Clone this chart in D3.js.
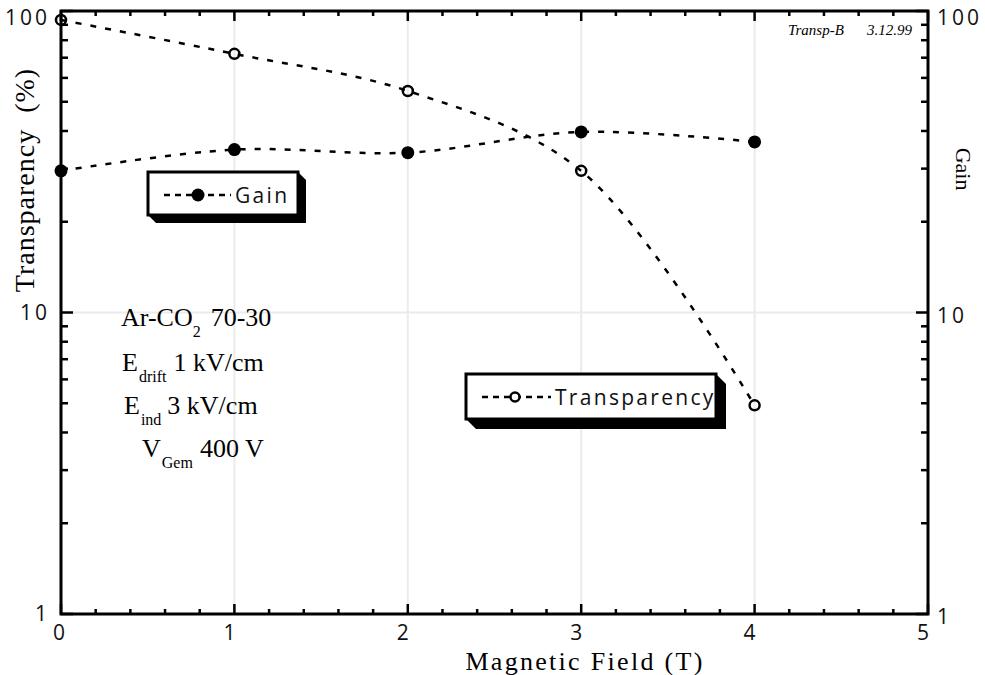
<!DOCTYPE html>
<html>
<head>
<meta charset="utf-8">
<script src="https://cdn.jsdelivr.net/npm/d3@7"></script>
<style>
  html, body { margin: 0; padding: 0; background: #fff; }
  svg { display: block; }
</style>
</head>
<body>
<svg id="chart" width="985" height="675"></svg>
<script>
// ---- data ----
const fieldT = [0, 1, 2, 3, 4];
const transparency = [93.4, 72.1, 54.3, 29.5, 4.92];
const gain = [29.5, 34.7, 33.9, 39.7, 36.8];
const xTickLabels = ["0", "1", "2", "3", "4", "5"];
const yTickLabels = ["1", "10", "100"];
const legendLabels = ["Gain", "Transparency"];

const svg = d3.select("#chart");
const L = 61, R = 928, T = 11, B = 614;
const x = d3.scaleLinear().domain([0, 5]).range([L, R]);
const y = d3.scaleLog().domain([1, 100]).range([B, T]);

const sans = "'Open Sans', 'DejaVu Sans', sans-serif";
const serif = "'Liberation Serif', 'DejaVu Serif', serif";

// grid
const grid = svg.append("g").attr("stroke", "#ebebeb").attr("stroke-width", 2);
[1, 2, 3, 4].forEach(v => grid.append("line").attr("x1", x(v)).attr("x2", x(v)).attr("y1", T).attr("y2", B));
grid.append("line").attr("x1", L).attr("x2", R).attr("y1", y(10)).attr("y2", y(10));

// ticks
const xMajor = d3.range(0, 6);
const xMinor = d3.range(0, 25).map(i => i * 0.2).filter(v => Math.abs(v - Math.round(v)) > 1e-6);
const yMajor = [1, 10, 100];
const yMinor = [2,3,4,5,6,7,8,9,20,30,40,50,60,70,80,90];

const ax = svg.append("g").attr("stroke", "#000").attr("stroke-width", 2.5);
function tickX(v, len) {
  ax.append("line").attr("x1", x(v)).attr("x2", x(v)).attr("y1", B).attr("y2", B - len);
  ax.append("line").attr("x1", x(v)).attr("x2", x(v)).attr("y1", T).attr("y2", T + len);
}
function tickY(v, len) {
  ax.append("line").attr("x1", L).attr("x2", L + len).attr("y1", y(v)).attr("y2", y(v));
  ax.append("line").attr("x1", R).attr("x2", R - len).attr("y1", y(v)).attr("y2", y(v));
}
xMajor.forEach(v => tickX(v, 10));
xMinor.forEach(v => tickX(v, 5));
yMajor.forEach(v => tickY(v, 12));
yMinor.forEach(v => tickY(v, 7));

// frame
svg.append("rect").attr("x", L).attr("y", T).attr("width", R - L).attr("height", B - T)
  .attr("fill", "none").attr("stroke", "#000").attr("stroke-width", 3);

// tick labels
const lab = svg.append("g").attr("font-family", sans).attr("font-size", 21).attr("fill", "#111");
xMajor.forEach((v, i) => {
  lab.append("text").attr("x", x(v) - (i === 0 ? 2 : 5)).attr("y", 640).attr("text-anchor", "middle").text(xTickLabels[i]);
});
yMajor.forEach((v, i) => {
  lab.append("text").attr("x", 50).attr("y", Math.max(y(v) + 7, 25)).attr("text-anchor", "end")
    .attr("letter-spacing", 3).text(yTickLabels[i]);
  lab.append("text").attr("x", 937).attr("y", Math.max(y(v) + 10, 25)).attr("text-anchor", "start")
    .attr("letter-spacing", 3).text(yTickLabels[i]);
});

// axis titles
svg.append("text").attr("x", 585).attr("y", 670).attr("text-anchor", "middle")
  .attr("font-family", serif).attr("font-size", 26).attr("letter-spacing", 2.3).text("Magnetic Field (T)");
svg.append("text").attr("transform", "translate(34,180) rotate(-90)").attr("text-anchor", "middle")
  .attr("font-family", serif).attr("font-size", 28).attr("letter-spacing", 1).attr("xml:space", "preserve").text("Transparency  (%)");
svg.append("text").attr("transform", "translate(956,169) rotate(90)").attr("text-anchor", "middle")
  .attr("font-family", serif).attr("font-size", 22).text("Gain");

// annotation
svg.append("text").attr("x", 788).attr("y", 35).attr("font-family", serif).attr("font-style", "italic")
  .attr("font-size", 15).text("Transp-B");
svg.append("text").attr("x", 867).attr("y", 35).attr("font-family", serif).attr("font-style", "italic")
  .attr("font-size", 15).text("3.12.99");

const ann = svg.append("g").attr("font-family", serif).attr("font-size", 26).attr("fill", "#000");
function annLine(xx, yy, main, sub, rest, subGap, restGap) {
  const t = ann.append("text").attr("x", xx).attr("y", yy);
  t.append("tspan").text(main);
  t.append("tspan").attr("font-size", 16).attr("dx", subGap).attr("dy", 11).text(sub);
  t.append("tspan").attr("dx", restGap).attr("dy", -11).text(rest);
}
annLine(121, 326, "Ar-CO", "2", "70-30", 0, 10);
annLine(122, 371, "E", "drift", "1 kV/cm", 1, 7);
annLine(124, 414, "E", "ind", "3 kV/cm", 1, 6);
annLine(142, 457, "V", "Gem", "400 V", 1, 7);

// lines
const line = d3.line().x(d => x(d[0])).y(d => y(d[1])).curve(d3.curveCatmullRom.alpha(0.5));
const dash = "6,9";
svg.append("path").datum(fieldT.map((f, i) => [f, transparency[i]])).attr("d", line)
  .attr("fill", "none").attr("stroke", "#000").attr("stroke-width", 2.5).attr("stroke-dasharray", dash);
svg.append("path").datum(fieldT.map((f, i) => [f, gain[i]])).attr("d", line)
  .attr("fill", "none").attr("stroke", "#000").attr("stroke-width", 2.5).attr("stroke-dasharray", dash);

// markers
svg.append("g").selectAll("circle").data(fieldT).join("circle")
  .attr("cx", (d) => x(d)).attr("cy", (d, i) => y(gain[i])).attr("r", 6.5).attr("fill", "#000");
svg.append("g").selectAll("circle").data(fieldT).join("circle")
  .attr("cx", (d) => x(d)).attr("cy", (d, i) => y(transparency[i])).attr("r", 5)
  .attr("fill", "none").attr("stroke", "#000").attr("stroke-width", 2.5);

// legends
function legendBox(bx, by, bw, bh, d, lx0, mx, lx1, ty, label, filled) {
  const g = svg.append("g");
  g.append("polygon").attr("points", [
    [bx + bw, by], [bx + bw + d, by + d], [bx + bw + d, by + bh + d], [bx + d, by + bh + d], [bx, by + bh]
  ].map(p => p.join(",")).join(" ")).attr("fill", "#000");
  g.append("rect").attr("x", bx).attr("y", by).attr("width", bw).attr("height", bh)
    .attr("fill", "#fff").attr("stroke", "#000").attr("stroke-width", 3);
  g.append("line").attr("x1", lx0).attr("x2", lx1).attr("y1", ty - 8).attr("y2", ty - 8)
    .attr("stroke", "#000").attr("stroke-width", 2.5).attr("stroke-dasharray", "6,5");
  if (filled) {
    g.append("circle").attr("cx", mx).attr("cy", ty - 8).attr("r", 6.5).attr("fill", "#000");
  } else {
    g.append("circle").attr("cx", mx).attr("cy", ty - 8).attr("r", 4.5).attr("fill", "#fff")
      .attr("stroke", "#000").attr("stroke-width", 2.5);
  }
  g.append("text").attr("x", lx1 + 4).attr("y", ty).attr("font-family", sans).attr("font-size", 21)
    .attr("letter-spacing", 2.3).attr("fill", "#111").text(label);
}
legendBox(148, 172, 150, 43, 8, 164, 198, 231, 203, legendLabels[0], true);
legendBox(466, 374, 250, 45, 10, 482, 515, 551, 405, legendLabels[1], false);
</script>
</body>
</html>
